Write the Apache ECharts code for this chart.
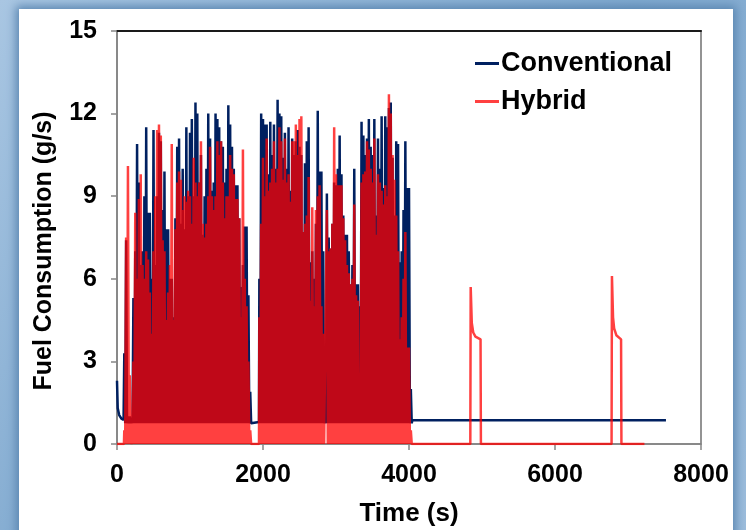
<!DOCTYPE html>
<html>
<head>
<meta charset="utf-8">
<script src="https://cdn.jsdelivr.net/npm/echarts@6/dist/echarts.min.js"></script>
<style>
  html, body { margin: 0; padding: 0; }
  body { width: 746px; height: 530px; overflow: hidden; position: relative;
         background: linear-gradient(135deg, #a9c6e2 0%, #80a9cf 50%, #9dbddc 100%); }
  #frame { position: absolute; left: 19px; top: 9px; width: 714px; height: 560px; background: #fff;
           box-shadow: 0 0 9px 3px #5a86b1; }
  #chart { position: absolute; left: 0; top: 0; width: 746px; height: 530px; }
</style>
</head>
<body>
<div id="frame"></div>
<div id="chart"></div>
<script>
// ---- data ----
const seriesNames = ['Conventional', 'Hybrid'];
const xTicks = [0, 2000, 4000, 6000, 8000];
const yTicks = [0, 3, 6, 9, 12, 15];

// start-up of the conventional engine (time s, g/s)
const convStart = [[0, 2.3], [10, 1.3], [30, 1.05], [60, 0.92], [90, 0.88]];
// the two dense driving blocks: peak value every 25 s
const peakStep = 25;
const blockAStart = 100;
const convPeaksA = [3.3, 7.4, 1.0, 1.0, 0.9, 5.3, 7.0, 10.9, 9.5, 6.5,
  7.0, 9.0, 11.5, 8.4, 8.4, 6.0, 11.4, 6.5, 9.0, 11.3,
  11.0, 8.5, 9.9, 7.8, 7.8, 6.0, 6.0, 4.6, 8.2, 10.8,
  11.1, 8.0, 10.0, 7.8, 11.5, 9.0, 11.3, 11.8, 9.0, 12.4,
  12.0, 9.5, 10.5, 7.6, 9.0, 10.0, 12.0, 11.1, 9.2, 9.5,
  12.0, 11.8, 11.5, 11.0, 10.8, 9.5, 10.0, 12.3, 11.6, 10.8,
  10.0, 9.4, 9.4, 8.2, 5.7, 6.5, 7.9, 7.9, 5.4, 1.9];
const hybPeaksA = [0.5, 7.5, 10.1, 2.5, 0.3, 3.0, 8.4, 6.0, 8.9, 9.8,
  6.5, 6.0, 7.0, 6.7, 5.5, 4.0, 7.0, 9.0, 11.4, 11.6,
  11.2, 7.4, 7.0, 4.5, 5.5, 6.5, 10.9, 4.5, 7.8, 9.5,
  9.9, 9.6, 8.5, 9.0, 8.8, 9.2, 9.0, 8.0, 10.4, 9.5,
  9.0, 9.5, 11.0, 8.0, 7.5, 8.0, 9.0, 10.8, 9.0, 8.5,
  9.0, 11.0, 10.5, 11.0, 9.5, 8.2, 9.0, 9.0, 10.5, 10.0,
  9.8, 8.9, 8.9, 8.2, 4.6, 10.7, 6.0, 5.0, 3.0, 0.5];
const blockBStart = 1950;
const convPeaksB = [6.0, 12.0, 11.8, 11.6, 11.6, 9.8, 11.7, 10.5, 11.6, 10.0,
  12.5, 12.0, 11.9, 10.4, 11.3, 10.0, 11.5, 9.2, 11.1, 10.5,
  11.0, 11.4, 10.8, 10.5, 7.7, 10.2, 11.0, 11.5, 6.6, 7.0,
  6.0, 8.0, 12.1, 9.9, 9.9, 7.0, 0.9, 9.1, 7.5, 7.1,
  8.0, 9.5, 9.4, 10.0, 11.2, 9.8, 8.3, 7.6, 7.6, 7.0,
  5.8, 6.5, 10.0, 5.8, 5.8, 5.0, 11.7, 11.2, 10.5, 11.1,
  11.8, 10.8, 10.5, 11.8, 8.3, 11.1, 10.0, 11.9, 9.3, 11.9,
  11.5, 12.2, 12.4, 10.4, 8.3, 11.0, 10.9, 6.6, 7.0, 8.5,
  11.0, 9.3, 9.3, 2.0];
const hybPeaksB = [4.6, 8.0, 10.4, 9.0, 11.1, 9.2, 9.5, 10.0, 11.0, 9.5,
  10.0, 11.5, 11.0, 9.6, 11.1, 9.5, 9.8, 8.8, 11.0, 11.0,
  11.6, 10.5, 11.8, 11.9, 7.7, 8.0, 8.3, 9.7, 5.2, 8.6,
  5.0, 8.5, 9.0, 9.4, 5.0, 4.0, 0.0, 8.5, 7.0, 7.1,
  8.0, 11.5, 9.8, 9.4, 9.4, 9.4, 8.2, 7.4, 6.5, 6.2,
  5.8, 6.0, 8.7, 5.4, 5.2, 2.5, 9.5, 9.8, 9.9, 11.0,
  10.7, 10.0, 9.5, 11.1, 7.6, 9.8, 9.5, 9.2, 8.7, 9.4,
  9.0, 12.7, 12.0, 10.5, 9.6, 8.3, 7.0, 3.8, 4.6, 6.0,
  7.7, 3.5, 3.5, 0.5];
// minimum values between the peaks inside the driving blocks
const convLow = 0.75;
const hybLow = 0.0;
// idle conventional level in the gap and after the cycle
const convGap = [[1840, 0.8], [1945, 0.8]];
const convIdle = [[4045, 0.86], [7520, 0.86]];
// hybrid: engine off at start, in the gap and after the cycle, with two restarts
const hybStart = [[0, 0], [95, 0]];
const hybGap = [[1840, 0], [1945, 0]];
const hybTail = [[4040, 0], [4840, 0], [4845, 5.7], [4860, 4.4], [4880, 4.05], [4910, 3.9],
  [4980, 3.8], [4985, 0], [6775, 0], [6780, 6.1], [6795, 4.6], [6810, 4.2], [6840, 3.95],
  [6905, 3.8], [6910, 0], [7225, 0]];

function block(start, peaks, low) {
  const out = [];
  peaks.forEach((p, i) => {
    const t = start + i * peakStep;
    out.push([t, p]);
    out.push([t + peakStep / 2, low]);
  });
  return out;
}

const convData = [].concat(convStart, block(blockAStart, convPeaksA, convLow), convGap,
  block(blockBStart, convPeaksB, convLow), convIdle);
const hybData = [].concat(hybStart, block(blockAStart, hybPeaksA, hybLow), hybGap,
  block(blockBStart, hybPeaksB, hybLow), hybTail);

const FONT = '"Liberation Sans", Arial, sans-serif';
const chart = echarts.init(document.getElementById('chart'), null, { renderer: 'canvas' });
chart.setOption({
  animation: false,
  backgroundColor: 'transparent',
  grid: { left: 117, right: 45, top: 31, bottom: 86, show: true, borderColor: '#707070', borderWidth: 1.5 },
  legend: {
    orient: 'vertical', left: 470, top: 45, itemGap: 11, itemWidth: 24, itemHeight: 3,
    icon: 'rect',
    textStyle: { fontFamily: FONT, fontWeight: 'bold', fontSize: 27, color: '#000', padding: [0, 0, 0, -3] },
    data: seriesNames
  },
  xAxis: [{
    type: 'value', min: xTicks[0], max: xTicks[xTicks.length - 1], interval: 2000,
    axisLine: { show: true, lineStyle: { color: '#868686', width: 1.5 } },
    axisTick: { show: true, length: 6, lineStyle: { color: '#868686', width: 1.5 } },
    splitLine: { show: false },
    axisLabel: { margin: 19, fontFamily: FONT, fontWeight: 'bold', fontSize: 25, color: '#000',
                 formatter: v => String(v) }
  }, {
    type: 'value', position: 'top', min: 0, max: 8000,
    axisLine: { show: true, lineStyle: { color: '#1a1a1a', width: 2 } },
    axisTick: { show: false }, axisLabel: { show: false }, splitLine: { show: false }
  }],
  yAxis: {
    type: 'value', min: yTicks[0], max: yTicks[yTicks.length - 1], interval: 3,
    axisLine: { show: true, lineStyle: { color: '#868686', width: 1.5 } },
    axisTick: { show: true, length: 6, lineStyle: { color: '#868686', width: 1.5 } },
    splitLine: { show: false },
    axisLabel: { margin: 20, fontFamily: FONT, fontWeight: 'bold', fontSize: 25, color: '#000' }
  },
  graphic: [
    { type: 'text', x: 44, y: 251, rotation: Math.PI / 2,
      style: { text: 'Fuel Consumption (g/s)', fontFamily: FONT, fontWeight: 'bold', fontSize: 25,
               fill: '#000', align: 'center', verticalAlign: 'middle' } },
    { type: 'text', x: 409, y: 514,
      style: { text: 'Time (s)', fontFamily: FONT, fontWeight: 'bold', fontSize: 26,
               fill: '#000', align: 'center', verticalAlign: 'middle' } }
  ],
  series: [
    { name: seriesNames[0], type: 'line', data: convData, showSymbol: false, symbol: 'none',
      color: '#002060', lineStyle: { color: '#002060', width: 2.5 }, z: 2 },
    { name: seriesNames[1], type: 'line', data: hybData, showSymbol: false, symbol: 'none',
      color: 'rgba(255,0,0,0.75)', lineStyle: { color: '#ff0000', width: 2.5, opacity: 0.75 }, z: 3 }
  ]
});
</script>
</body>
</html>
